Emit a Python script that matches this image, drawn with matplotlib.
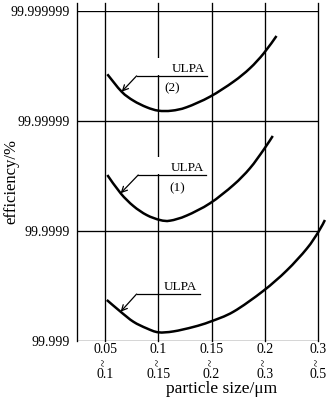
import matplotlib.pyplot as plt
import numpy as np
from matplotlib.patches import Rectangle, PathPatch
from matplotlib.path import Path

plt.rcParams['font.family'] = ['Liberation Serif', 'DejaVu Serif']

# x: tick slot (0 -> 0.05~0.1 ... 4 -> 0.3~0.5)
# y: decades of penetration below 99.999 (0 -> 99.999, 3 -> 99.999999)
size_lo = ['0.05', '0.1', '0.15', '0.2', '0.3']
size_hi = ['0.1', '0.15', '0.2', '0.3', '0.5']
eff_labels = ['99.999', '99.9999', '99.99999', '99.999999']

ulpa2_x = [0.04, 0.31, 0.53, 0.78, 1.00, 1.25, 1.53, 1.97, 2.41, 2.72, 2.98, 3.22]
ulpa2_y = [2.425, 2.266, 2.185, 2.125, 2.094, 2.094, 2.125, 2.221, 2.357, 2.479, 2.615, 2.773]

ulpa1_x = [0.04, 0.29, 0.53, 0.78, 1.03, 1.22, 1.53, 1.97, 2.41, 2.72, 2.98, 3.15]
ulpa1_y = [1.509, 1.343, 1.227, 1.145, 1.100, 1.094, 1.140, 1.252, 1.418, 1.570, 1.740, 1.864]

ulpa_x = [0.03, 0.29, 0.53, 0.78, 1.00, 1.28, 1.66, 1.97, 2.41, 2.97, 3.41, 3.79, 4.01, 4.13]
ulpa_y = [0.373, 0.266, 0.175, 0.115, 0.079, 0.087, 0.128, 0.175, 0.266, 0.455, 0.640, 0.840, 0.994, 1.100]

# label callouts: name, sub, underline (x0, x1, y), arrow tip, text x, sub position
callouts = [
    ('ULPA', '(2)', (0.59, 1.91, 2.41), (0.31, 2.266), 1.25, (1.12, 2.30)),
    ('ULPA', '(1)', (0.62, 1.89, 1.509), (0.29, 1.343), 1.23, (1.20, 1.39)),
    ('ULPA', '', (0.59, 1.78, 0.427), (0.29, 0.266), 1.10, None),
]


def smooth_path(xs, ys):
    # catmull-rom through the read points, drawn as bezier segments
    p = np.column_stack([xs, ys])
    n = len(p)
    verts = [p[0]]
    codes = [Path.MOVETO]
    for i in range(n - 1):
        a = p[i - 1] if i > 0 else p[i]
        d = p[i + 2] if i + 2 < n else p[i + 1]
        verts += [p[i] + (p[i + 1] - a) / 6, p[i + 1] - (d - p[i]) / 6, p[i + 1]]
        codes += [Path.CURVE4] * 3
    return Path(verts, codes)


W, H = 332, 399
fig = plt.figure(figsize=(W / 100, H / 100), dpi=100)
ax = fig.add_axes([77 / W, 1 - 341 / H, (318 - 77) / W, (341 - 11) / H])
xmin, xmax = -0.53, 4.0
ax.set_xlim(xmin, xmax)
ax.set_ylim(0, 3)
for s in ax.spines.values():
    s.set_visible(False)

lw_grid = 0.95
top = 3.075
for lvl in range(4):
    ax.plot([xmin, xmax], [lvl, lvl], color='black', lw=lw_grid, zorder=1)
ax.plot([xmin, xmin], [0, top], color='black', lw=lw_grid, clip_on=False, zorder=1)
for i in range(5):
    ax.plot([i, i], [0, top], color='black', lw=lw_grid, clip_on=False, zorder=1)

# the 0.1 gridline is broken where the upper two labels sit
for name, sub, (x0, x1, yu), tip, tx, subpos in callouts:
    if sub:
        ax.add_patch(Rectangle((0.9, yu + 0.005), 0.2, 0.16, facecolor='white',
                               edgecolor='none', zorder=2))

for xs, ys in [(ulpa2_x, ulpa2_y), (ulpa1_x, ulpa1_y), (ulpa_x, ulpa_y)]:
    ax.add_patch(PathPatch(smooth_path(xs, ys), facecolor='none', edgecolor='black',
                           lw=1.8, clip_on=False, zorder=3, capstyle='butt'))

for name, sub, (x0, x1, yu), tip, tx, subpos in callouts:
    ax.plot([x0, x1], [yu, yu], color='black', lw=0.9, zorder=3)
    ax.annotate('', xy=tip, xytext=(x0, yu),
                arrowprops=dict(arrowstyle='->', lw=0.9, color='black',
                                shrinkA=0, shrinkB=0, mutation_scale=10),
                zorder=3)
    ax.text(tx, yu + 0.035, name, fontsize=9.5, ha='left', va='baseline', zorder=4)
    if subpos:
        ax.text(subpos[0], subpos[1], sub, fontsize=9.5, ha='left', va='center', zorder=4)

ax.set_yticks(range(4))
ax.set_yticklabels(eff_labels, fontsize=10)
ax.tick_params(axis='y', length=0, pad=5)
ax.set_xticks([])

trans = ax.get_xaxis_transform()
for i in range(5):
    ax.text(i, -0.0364, size_lo[i], transform=trans, ha='center', va='baseline', fontsize=10)
    ax.text(i, -0.0635, '~', transform=trans, ha='center', va='center', fontsize=9.5,
            rotation=90)
    ax.text(i, -0.112, size_hi[i], transform=trans, ha='center', va='baseline', fontsize=10)

fig.text(222 / W, 1 - 389 / H, 'particle size/μm', ha='center', va='center', fontsize=12.5)
fig.text(11 / W, 1 - 182 / H, 'efficiency/%', ha='center', va='center', fontsize=12,
         rotation=90)

fig.savefig('out.png', dpi=100, facecolor='white')
